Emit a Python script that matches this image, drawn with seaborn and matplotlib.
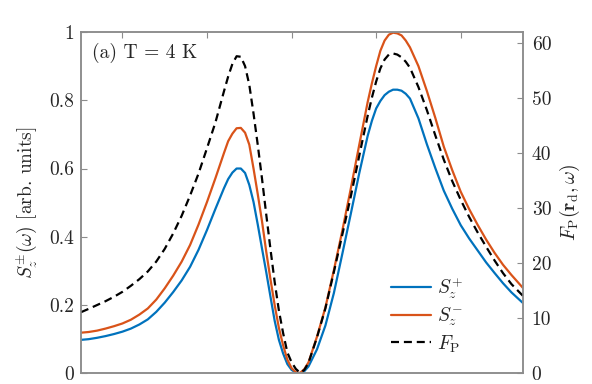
import matplotlib
matplotlib.use("Agg")
import matplotlib.pyplot as plt
import seaborn as sns

# ---- data ----
omega = [0.51, 0.6, 0.7, 0.8, 0.9, 1.0, 1.1, 1.2, 1.3, 1.4, 1.5, 1.6, 1.7, 1.8, 1.9,
         2.0, 2.1, 2.2,
         2.25, 2.3, 2.35, 2.4, 2.45, 2.5, 2.55, 2.6, 2.65, 2.7, 2.75, 2.8, 2.85, 2.9,
         2.95, 3.0, 3.05, 3.1, 3.15, 3.2,
         3.3, 3.4, 3.5, 3.6, 3.7, 3.8, 3.9,
         3.95, 4.0, 4.05, 4.1, 4.15, 4.2, 4.25, 4.3, 4.35, 4.4,
         4.5, 4.6, 4.7, 4.8, 4.9, 5.0, 5.1, 5.2, 5.3, 5.4, 5.5, 5.6,
         5.74]

s_plus = [0.098, 0.100, 0.104, 0.109, 0.115, 0.122, 0.131, 0.143, 0.158, 0.180,
          0.207, 0.238, 0.272, 0.312, 0.362, 0.420, 0.482, 0.542,
          0.569, 0.588, 0.600, 0.600, 0.587, 0.552, 0.502, 0.436, 0.366, 0.297,
          0.225, 0.154, 0.098, 0.058, 0.027, 0.010, 0.002, 0.000, 0.006, 0.020,
          0.070, 0.140, 0.235, 0.350, 0.467, 0.586, 0.696,
          0.740, 0.776, 0.798, 0.815, 0.825, 0.831, 0.831, 0.828, 0.819, 0.805,
          0.747, 0.671, 0.601, 0.535, 0.482, 0.434, 0.395, 0.360, 0.325, 0.294,
          0.264, 0.237,
          0.205]

s_minus = [0.119, 0.121, 0.125, 0.131, 0.138, 0.146, 0.157, 0.172, 0.190, 0.216,
           0.249, 0.286, 0.327, 0.376, 0.436, 0.502, 0.572, 0.645,
           0.680, 0.702, 0.718, 0.719, 0.705, 0.670, 0.600, 0.525, 0.446, 0.357,
           0.276, 0.200, 0.133, 0.082, 0.040, 0.015, 0.003, 0.001, 0.012, 0.032,
           0.107, 0.193, 0.302, 0.418, 0.541, 0.669, 0.795,
           0.850, 0.900, 0.945, 0.975, 0.992, 0.998, 0.996, 0.990, 0.975, 0.955,
           0.900, 0.827, 0.748, 0.664, 0.595, 0.532, 0.481, 0.435, 0.392, 0.353,
           0.318, 0.288,
           0.249]

f_purcell = [11.1, 11.7, 12.4, 13.1, 13.9, 14.8, 15.9, 17.1, 18.5, 20.3, 22.6, 25.4,
             28.6, 32.3, 36.3, 40.9, 45.6, 51.2,
             53.9, 56.2, 57.6, 57.5, 55.8, 52.4, 47.2, 41.5, 35.4, 28.9, 22.6, 16.6,
             11.4, 7.3, 3.8, 2.0, 0.8, 0.1, 0.6, 1.9,
             6.5, 11.8, 18.4, 25.2, 32.1, 39.5, 46.8,
             50.1, 53.0, 55.4, 57.0, 57.9, 58.1, 57.9, 57.4, 56.6, 55.5,
             52.0, 47.8, 43.2, 38.8, 34.9, 31.5, 28.4, 25.6, 23.0, 20.5, 18.2, 16.2,
             14.0]

x_ticks = [1, 2, 3, 4, 5]
left_ticks = [0, 0.2, 0.4, 0.6, 0.8, 1]
left_ticklabels = ["0", "0.2", "0.4", "0.6", "0.8", "1"]
right_ticks = [0, 10, 20, 30, 40, 50, 60]
right_ticklabels = ["0", "10", "20", "30", "40", "50", "60"]
labels = [r"$S_z^{+}$", r"$S_z^{-}$", r"$F_{\rm P}$"]

# ---- style ----
sns.set_style("white")
plt.rcParams["font.family"] = ["cmr10", "DejaVu Serif"]
plt.rcParams["mathtext.fontset"] = "cm"
plt.rcParams["axes.formatter.use_mathtext"] = True
plt.rcParams["axes.unicode_minus"] = False

blue = "#0072BD"
orange = "#D95319"
frame = "#8c8c8c"
txt = "#262626"
fs = 14

fig = plt.figure(figsize=(5.92, 3.84), dpi=100)
ax = fig.add_axes([81 / 592, 1 - 373.3 / 384, (523.3 - 81) / 592, (373.3 - 32) / 384])
ax2 = ax.twinx()

sns.lineplot(x=omega, y=s_plus, ax=ax, color=blue, lw=1.6, label=labels[0])
sns.lineplot(x=omega, y=s_minus, ax=ax, color=orange, lw=1.6, label=labels[1])
sns.lineplot(x=omega, y=f_purcell, ax=ax2, color="black", lw=1.6, label=labels[2],
             linestyle=(0, (3.6, 2.2)))

ax.set_xlim(0.51, 5.74)
ax.set_ylim(0, 1)
ax2.set_ylim(0, 62)
ax.set_xticks(x_ticks)
ax.set_xticklabels([])
ax.set_yticks(left_ticks)
ax.set_yticklabels(left_ticklabels)
ax2.set_yticks(right_ticks)
ax2.set_yticklabels(right_ticklabels)
ax.set_xlabel("")

ax.tick_params(axis="both", direction="in", length=4, width=0.8, color=frame,
               labelsize=fs, labelcolor=txt, top=True, right=False, pad=5)
ax2.tick_params(axis="y", direction="in", length=4, width=0.8, color=frame,
                labelsize=fs, labelcolor=txt, pad=6)

for a in (ax, ax2):
    for s in a.spines.values():
        s.set_color(frame)
        s.set_linewidth(1.1)
        s.set_visible(True)

ax.set_ylabel(r"$S_z^{\pm}(\omega)$ [arb. units]", fontsize=fs, color=txt, labelpad=7)
ax2.set_ylabel(r"$F_{\rm P}(\mathbf{r}_{\rm d},\omega)$", fontsize=fs, color=txt, labelpad=5)

ax.text(0.026, 0.923, "(a) T = 4 K", transform=ax.transAxes, fontsize=fs,
        color=txt, va="baseline", ha="left")

h1, l1 = ax.get_legend_handles_labels()
h2, l2 = ax2.get_legend_handles_labels()
if ax.get_legend():
    ax.get_legend().remove()
if ax2.get_legend():
    ax2.get_legend().remove()
ax2.legend(h1 + h2, l1 + l2, loc="lower left", bbox_to_anchor=(0.70, 0.055),
           frameon=False, fontsize=fs, handlelength=2.1, handletextpad=0.3,
           borderpad=0, borderaxespad=0, labelspacing=0.25, labelcolor=txt)

fig.savefig("out.png", dpi=100)
